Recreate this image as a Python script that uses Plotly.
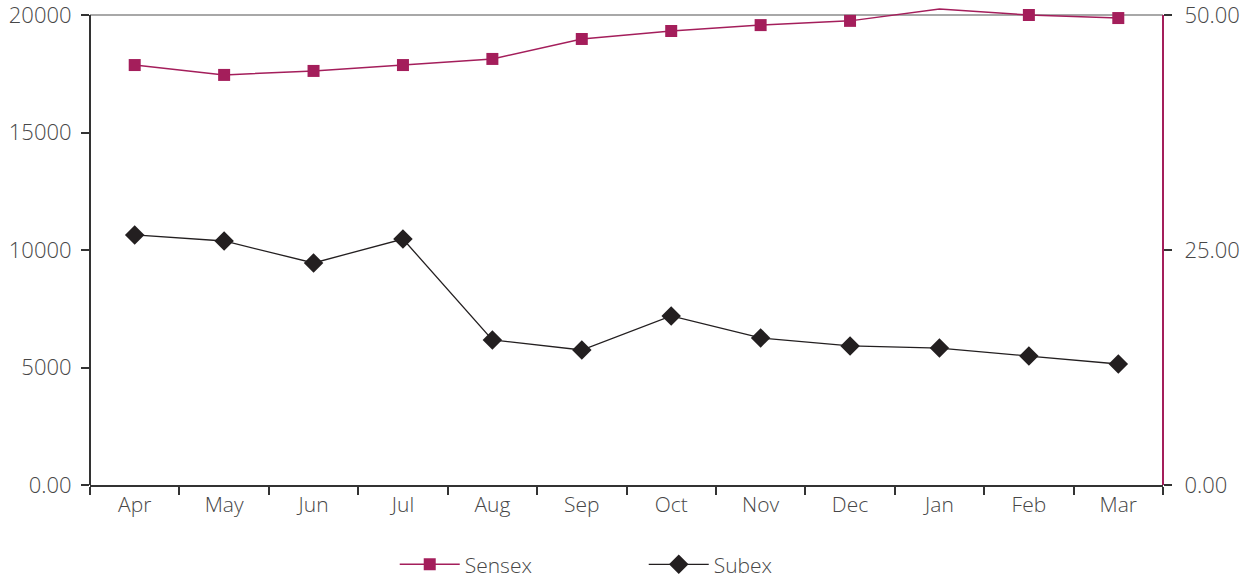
import numpy as np
import plotly.graph_objects as go

months = ["Apr", "May", "Jun", "Jul", "Aug", "Sep", "Oct", "Nov", "Dec", "Jan", "Feb", "Mar"]
sensex = [17870, 17450, 17620, 17870, 18130, 18980, 19320, 19570, 19750, 20250, 20000, 19870]
subex = [26.6, 25.96, 23.62, 26.17, 15.43, 14.36, 17.98, 15.64, 14.79, 14.57, 13.72, 12.87]

left_ticks = [0, 5000, 10000, 15000, 20000]
left_labels = ["0.00", "5000", "10000", "15000", "20000"]
right_ticks = [0, 25, 50]
right_labels = ["0.00", "25.00", "50.00"]

LEFT_MAX = 20000
RIGHT_MAX = 50
HEADROOM = 480 / 470  # extra room above the axis top so the line can overshoot

CRIMSON = "#A41E5B"
BLACK = "#231F20"
AXIS = "#333333"
TXT = "#474747"
FONT = "Open Sans"

# markers beyond the axis maximum are hidden (as in the original chart)
sensex_opacity = [0 if v > LEFT_MAX else 1 for v in sensex]

fig = go.Figure()
fig.add_trace(go.Scatter(
    x=months, y=sensex, name="Sensex", mode="lines+markers", showlegend=False,
    line=dict(color=CRIMSON, width=1.5),
    marker=dict(symbol="square", size=12, color=CRIMSON, opacity=sensex_opacity),
    cliponaxis=False, xaxis="x", yaxis="y",
))
fig.add_trace(go.Scatter(
    x=[months[0]], y=[None], name="Sensex", mode="lines+markers",
    line=dict(color=CRIMSON, width=1.5),
    marker=dict(symbol="square", size=12, color=CRIMSON),
    xaxis="x", yaxis="y",
))
fig.add_trace(go.Scatter(
    x=months, y=subex, name="Subex", mode="lines+markers",
    line=dict(color=BLACK, width=1.3),
    marker=dict(symbol="diamond", size=15, color=BLACK),
    cliponaxis=False, xaxis="x", yaxis="y2",
))

n = len(months)
boundaries = list(np.arange(n + 1) - 0.5)
fw = 300

fig.update_layout(
    width=1244, height=578,
    margin=dict(l=90, r=81, t=5, b=93, autoexpand=False),
    paper_bgcolor="white", plot_bgcolor="white",
    font=dict(family=FONT, size=21, color=TXT, weight=fw),
    showlegend=True,
    legend=dict(orientation="h", x=0.284, xanchor="left", y=-0.166, yanchor="middle",
                font=dict(size=21, color=TXT, weight=fw), entrywidth=174, itemwidth=60),
    xaxis=dict(
        type="category", categoryorder="array", categoryarray=months,
        range=[-0.5, n - 0.5],
        tickson="boundaries", ticks="outside", ticklen=8, tickwidth=2, tickcolor=AXIS,
        showline=True, linecolor=AXIS, linewidth=2, showgrid=False, zeroline=False,
        tickfont=dict(size=21, color=TXT, weight=fw), automargin=False,
    ),
    xaxis2=dict(
        overlaying="x", anchor="y", range=[-0.5, n - 0.5],
        tickmode="array", tickvals=boundaries, ticks="inside", ticklen=9, tickwidth=2,
        tickcolor=AXIS, showticklabels=False, showgrid=False, zeroline=False, showline=False,
    ),
    yaxis=dict(
        range=[0, LEFT_MAX * HEADROOM], tickmode="array", tickvals=left_ticks, ticktext=left_labels,
        ticks="outside", ticklen=8, tickwidth=2, tickcolor=AXIS, ticklabelstandoff=5,
        showline=False, showgrid=False, zeroline=False, ticklabeloverflow="allow",
        tickfont=dict(size=22, color=TXT, weight=fw), automargin=False,
    ),
    yaxis3=dict(
        overlaying="y", side="left", anchor="x", range=[0, LEFT_MAX * HEADROOM],
        tickmode="array", tickvals=left_ticks, ticks="inside", ticklen=10, tickwidth=2,
        tickcolor=AXIS, showticklabels=False, showgrid=False, zeroline=False, showline=False,
    ),
    yaxis2=dict(
        overlaying="y", side="right", anchor="x", range=[0, RIGHT_MAX * HEADROOM],
        tickmode="array", tickvals=right_ticks, ticktext=right_labels,
        ticks="outside", ticklen=8, tickwidth=2, tickcolor=AXIS, ticklabelstandoff=8,
        showline=False, showgrid=False, zeroline=False, ticklabeloverflow="allow",
        tickfont=dict(size=22, color=TXT, weight=fw), automargin=False,
    ),
    yaxis4=dict(
        overlaying="y", side="right", anchor="x", range=[0, RIGHT_MAX * HEADROOM],
        tickmode="array", tickvals=right_ticks, ticks="inside", ticklen=10, tickwidth=2,
        tickcolor=AXIS, showticklabels=False, showgrid=False, zeroline=False, showline=False,
    ),
    shapes=[
        dict(type="line", xref="paper", yref="y", x0=0, x1=1, y0=LEFT_MAX, y1=LEFT_MAX,
             line=dict(color="#A8A8A8", width=2), layer="below"),
        dict(type="line", xref="paper", yref="y", x0=0, x1=0, y0=0, y1=LEFT_MAX,
             line=dict(color=AXIS, width=2), layer="above"),
        dict(type="line", xref="paper", yref="y", x0=1, x1=1, y0=0, y1=LEFT_MAX,
             line=dict(color=CRIMSON, width=2), layer="above"),
    ],
)

fig.write_html("out.html")
